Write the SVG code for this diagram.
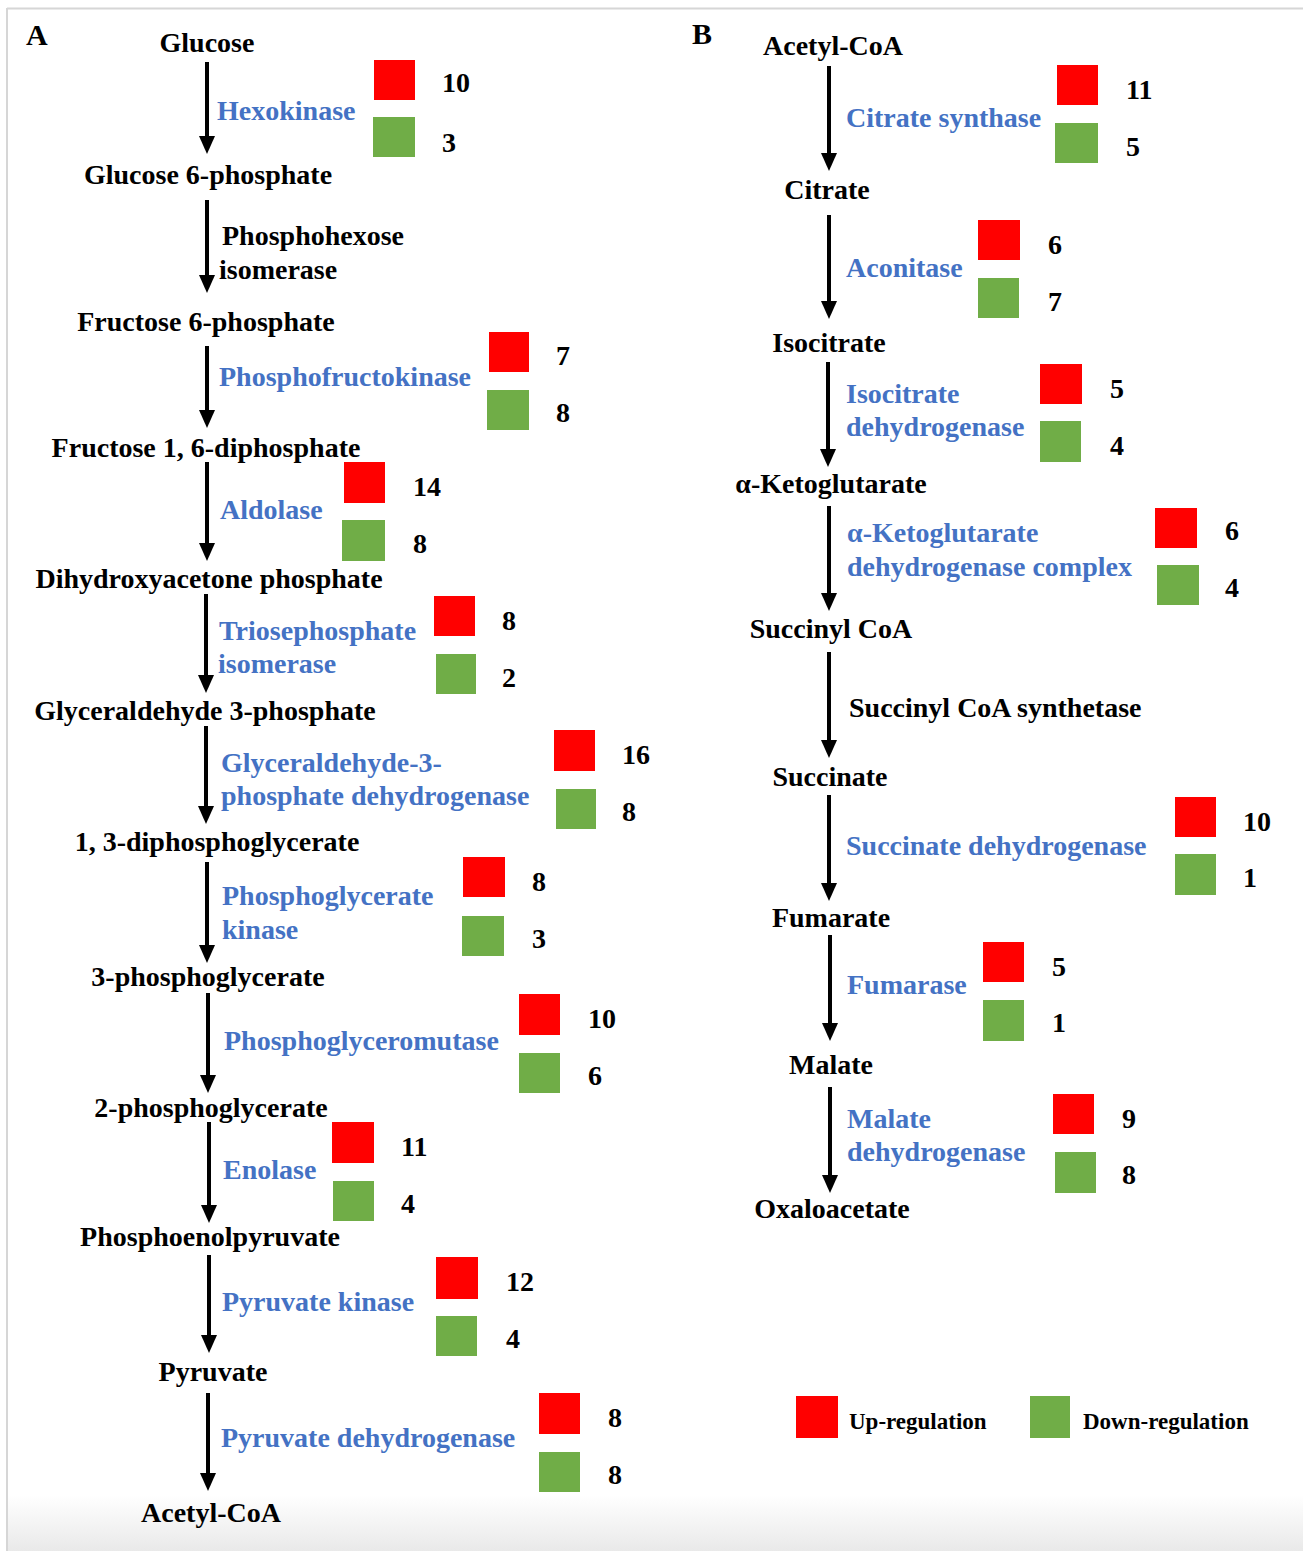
<svg xmlns="http://www.w3.org/2000/svg" width="1303" height="1551" viewBox="0 0 1303 1551">
<defs>
<linearGradient id="bg" x1="0" y1="0" x2="0" y2="1">
<stop offset="0" stop-color="#ffffff"/>
<stop offset="1" stop-color="#e9e9e9"/>
</linearGradient>
</defs>
<style>
text{font-family:"Liberation Serif","Times New Roman",serif;font-weight:bold;font-size:28px;fill:#000}
.m{text-anchor:middle}
.e{fill:#4472C4}
.lg{font-size:23px}
.up{fill:#FF0000}
.dn{fill:#70AD47}
.ar{stroke:#000;stroke-width:4;fill:none}
</style>
<rect x="0" y="0" width="1303" height="1551" fill="#fff"/>
<rect x="7" y="1495" width="1296" height="56" fill="url(#bg)"/>
<line x1="7" y1="8.5" x2="1303" y2="8.5" stroke="#d6d6d6" stroke-width="2"/>
<line x1="7" y1="8" x2="7" y2="1551" stroke="#d6d6d6" stroke-width="2"/>

<g id="connectors">
<line class="ar" x1="207" y1="62" x2="207" y2="136"/><path d="M199,136 L215,136 L207,154 Z"/>
<line class="ar" x1="207" y1="200" x2="207" y2="275"/><path d="M199,275 L215,275 L207,293 Z"/>
<line class="ar" x1="207" y1="346" x2="207" y2="410"/><path d="M199,410 L215,410 L207,428 Z"/>
<line class="ar" x1="207" y1="462" x2="207" y2="543"/><path d="M199,543 L215,543 L207,561 Z"/>
<line class="ar" x1="206" y1="594" x2="206" y2="675"/><path d="M198,675 L214,675 L206,693 Z"/>
<line class="ar" x1="206" y1="726" x2="206" y2="806"/><path d="M198,806 L214,806 L206,824 Z"/>
<line class="ar" x1="207" y1="862" x2="207" y2="945"/><path d="M199,945 L215,945 L207,963 Z"/>
<line class="ar" x1="208" y1="993" x2="208" y2="1075"/><path d="M200,1075 L216,1075 L208,1093 Z"/>
<line class="ar" x1="209" y1="1122" x2="209" y2="1205"/><path d="M201,1205 L217,1205 L209,1223 Z"/>
<line class="ar" x1="209" y1="1255" x2="209" y2="1335"/><path d="M201,1335 L217,1335 L209,1353 Z"/>
<line class="ar" x1="208" y1="1393" x2="208" y2="1473"/><path d="M200,1473 L216,1473 L208,1491 Z"/>

<line class="ar" x1="829" y1="66" x2="829" y2="153"/><path d="M821,153 L837,153 L829,171 Z"/>
<line class="ar" x1="829" y1="215" x2="829" y2="301"/><path d="M821,301 L837,301 L829,319 Z"/>
<line class="ar" x1="828" y1="362" x2="828" y2="449"/><path d="M820,449 L836,449 L828,467 Z"/>
<line class="ar" x1="829" y1="506" x2="829" y2="593"/><path d="M821,593 L837,593 L829,611 Z"/>
<line class="ar" x1="829" y1="652" x2="829" y2="740"/><path d="M821,740 L837,740 L829,758 Z"/>
<line class="ar" x1="829" y1="795" x2="829" y2="883"/><path d="M821,883 L837,883 L829,901 Z"/>
<line class="ar" x1="830" y1="935" x2="830" y2="1023"/><path d="M822,1023 L838,1023 L830,1041 Z"/>
<line class="ar" x1="830" y1="1087" x2="830" y2="1175"/><path d="M822,1175 L838,1175 L830,1193 Z"/>
</g>

<text x="26" y="45" style="font-size:30px">A</text>
<text x="692" y="44" style="font-size:30px">B</text>

<g id="glucose"><text class="m" x="207" y="52">Glucose</text></g>
<g id="hexokinase"><text class="e" x="217" y="120">Hexokinase</text>
<rect class="up" x="374" y="60" width="41" height="40"/><rect class="dn" x="373" y="117" width="42" height="40"/>
<text x="442" y="92">10</text><text x="442" y="152">3</text></g>
<g id="g6p"><text class="m" x="208" y="184">Glucose 6-phosphate</text></g>
<g id="phi"><text x="222" y="245">Phosphohexose</text><text x="219" y="279">isomerase</text></g>
<g id="f6p"><text class="m" x="206" y="331">Fructose 6-phosphate</text></g>
<g id="pfk"><text class="e" x="219" y="386">Phosphofructokinase</text>
<rect class="up" x="489" y="332" width="40" height="40"/><rect class="dn" x="487" y="390" width="42" height="40"/>
<text x="556" y="365">7</text><text x="556" y="422">8</text></g>
<g id="f16dp"><text class="m" x="206" y="457">Fructose 1, 6-diphosphate</text></g>
<g id="aldolase"><text class="e" x="220" y="519">Aldolase</text>
<rect class="up" x="344" y="462" width="41" height="41"/><rect class="dn" x="342" y="520" width="43" height="41"/>
<text x="413" y="496">14</text><text x="413" y="553">8</text></g>
<g id="dhap"><text class="m" x="209" y="588">Dihydroxyacetone phosphate</text></g>
<g id="tpi"><text class="e" x="219" y="640">Triosephosphate</text><text class="e" x="218" y="673">isomerase</text>
<rect class="up" x="434" y="596" width="41" height="40"/><rect class="dn" x="436" y="654" width="40" height="40"/>
<text x="502" y="630">8</text><text x="502" y="687">2</text></g>
<g id="g3p"><text class="m" x="205" y="720">Glyceraldehyde 3-phosphate</text></g>
<g id="gapdh"><text class="e" x="221" y="772">Glyceraldehyde-3-</text><text class="e" x="221" y="805">phosphate dehydrogenase</text>
<rect class="up" x="554" y="730" width="41" height="41"/><rect class="dn" x="556" y="789" width="40" height="40"/>
<text x="622" y="764">16</text><text x="622" y="821">8</text></g>
<g id="bpg13"><text class="m" x="217" y="851">1, 3-diphosphoglycerate</text></g>
<g id="pgk"><text class="e" x="222" y="905">Phosphoglycerate</text><text class="e" x="222" y="939">kinase</text>
<rect class="up" x="463" y="857" width="42" height="40"/><rect class="dn" x="462" y="916" width="42" height="40"/>
<text x="532" y="891">8</text><text x="532" y="948">3</text></g>
<g id="pg3"><text class="m" x="208" y="986">3-phosphoglycerate</text></g>
<g id="pgm"><text class="e" x="224" y="1050">Phosphoglyceromutase</text>
<rect class="up" x="519" y="994" width="41" height="41"/><rect class="dn" x="519" y="1053" width="41" height="40"/>
<text x="588" y="1028">10</text><text x="588" y="1085">6</text></g>
<g id="pg2"><text class="m" x="211" y="1117">2-phosphoglycerate</text></g>
<g id="enolase"><text class="e" x="223" y="1179">Enolase</text>
<rect class="up" x="332" y="1122" width="42" height="41"/><rect class="dn" x="333" y="1181" width="41" height="40"/>
<text x="401" y="1156">11</text><text x="401" y="1213">4</text></g>
<g id="pep"><text class="m" x="210" y="1246">Phosphoenolpyruvate</text></g>
<g id="pk"><text class="e" x="222" y="1311">Pyruvate kinase</text>
<rect class="up" x="436" y="1257" width="42" height="42"/><rect class="dn" x="436" y="1316" width="41" height="40"/>
<text x="506" y="1291">12</text><text x="506" y="1348">4</text></g>
<g id="pyruvate"><text class="m" x="213" y="1381">Pyruvate</text></g>
<g id="pdh"><text class="e" x="221" y="1447">Pyruvate dehydrogenase</text>
<rect class="up" x="539" y="1393" width="41" height="41"/><rect class="dn" x="539" y="1452" width="41" height="40"/>
<text x="608" y="1427">8</text><text x="608" y="1484">8</text></g>
<g id="acoa-a"><text class="m" x="211" y="1522">Acetyl-CoA</text></g>

<g id="acoa-b"><text class="m" x="833" y="55">Acetyl-CoA</text></g>
<g id="cs"><text class="e" x="846" y="127">Citrate synthase</text>
<rect class="up" x="1057" y="65" width="41" height="40"/><rect class="dn" x="1055" y="123" width="43" height="40"/>
<text x="1126" y="99">11</text><text x="1126" y="156">5</text></g>
<g id="citrate"><text class="m" x="827" y="199">Citrate</text></g>
<g id="aconitase"><text class="e" x="846" y="277">Aconitase</text>
<rect class="up" x="978" y="220" width="42" height="40"/><rect class="dn" x="978" y="278" width="41" height="40"/>
<text x="1048" y="254">6</text><text x="1048" y="311">7</text></g>
<g id="isocitrate"><text class="m" x="829" y="352">Isocitrate</text></g>
<g id="idh"><text class="e" x="846" y="403">Isocitrate</text><text class="e" x="846" y="436">dehydrogenase</text>
<rect class="up" x="1040" y="364" width="42" height="40"/><rect class="dn" x="1040" y="421" width="41" height="41"/>
<text x="1110" y="398">5</text><text x="1110" y="455">4</text></g>
<g id="akg"><text class="m" x="831" y="493">α-Ketoglutarate</text></g>
<g id="akgdh"><text class="e" x="847" y="542">α-Ketoglutarate</text><text class="e" x="847" y="576">dehydrogenase complex</text>
<rect class="up" x="1155" y="508" width="42" height="40"/><rect class="dn" x="1157" y="565" width="42" height="40"/>
<text x="1225" y="540">6</text><text x="1225" y="597">4</text></g>
<g id="succoa"><text class="m" x="831" y="638">Succinyl CoA</text></g>
<g id="scs"><text x="849" y="717">Succinyl CoA synthetase</text></g>
<g id="succinate"><text class="m" x="830" y="786">Succinate</text></g>
<g id="sdh"><text class="e" x="846" y="855">Succinate dehydrogenase</text>
<rect class="up" x="1175" y="797" width="41" height="40"/><rect class="dn" x="1175" y="854" width="41" height="41"/>
<text x="1243" y="831">10</text><text x="1243" y="887">1</text></g>
<g id="fumarate"><text class="m" x="831" y="927">Fumarate</text></g>
<g id="fumarase"><text class="e" x="847" y="994">Fumarase</text>
<rect class="up" x="983" y="942" width="41" height="40"/><rect class="dn" x="983" y="1000" width="41" height="41"/>
<text x="1052" y="976">5</text><text x="1052" y="1032">1</text></g>
<g id="malate"><text class="m" x="831" y="1074">Malate</text></g>
<g id="mdh"><text class="e" x="847" y="1128">Malate</text><text class="e" x="847" y="1161">dehydrogenase</text>
<rect class="up" x="1053" y="1094" width="41" height="40"/><rect class="dn" x="1055" y="1152" width="41" height="41"/>
<text x="1122" y="1128">9</text><text x="1122" y="1184">8</text></g>
<g id="oaa"><text class="m" x="832" y="1218">Oxaloacetate</text></g>

<g id="legend">
<rect class="up" x="796" y="1396" width="42" height="42"/><text class="lg" x="849" y="1429">Up-regulation</text>
<rect class="dn" x="1030" y="1396" width="40" height="42"/><text class="lg" x="1083" y="1429">Down-regulation</text>
</g>
</svg>
